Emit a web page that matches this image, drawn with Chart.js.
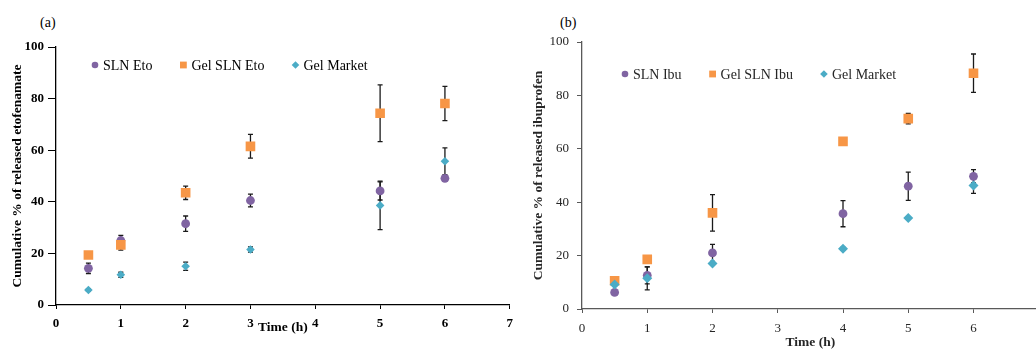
<!DOCTYPE html>
<html>
<head>
<meta charset="utf-8">
<script src="https://cdn.jsdelivr.net/npm/chart.js@4.4.1/dist/chart.umd.min.js"></script>
<style>
  html, body { margin: 0; padding: 0; background: #fff; overflow: hidden; }
  #chartA { position: absolute; left: 0; top: 0; }
  #chartB { position: absolute; left: 520px; top: 0; }
  .panel { position: absolute; top: 15px; font: 14px "Liberation Serif", serif; color: #000; }
</style>
</head>
<body>
<div class="panel" style="left:40px">(a)</div>
<div class="panel" style="left:560px">(b)</div>
<canvas id="chartA" width="520" height="349"></canvas>
<canvas id="chartB" width="530" height="352"></canvas>
<script>
// etofenamate release
const timesA = [0.5, 1, 2, 3, 5, 6];
const slnEto = [14.2, 25.0, 31.5, 40.5, 44.2, 49.1];
const slnEtoErr = [2.0, 2.0, 3.0, 2.5, 3.5, 1.0];
const gelSlnEto = [19.4, 23.3, 43.5, 61.5, 74.3, 78.1];
const gelSlnEtoErr = [0.5, 2.0, 2.6, 4.6, 11.0, 6.6];
const marketEto = [5.8, 11.7, 15.0, 21.5, 38.6, 55.7];
const marketEtoErr = [0.5, 1.0, 1.6, 1.0, 9.4, 5.2];

// ibuprofen release
const timesB = [0.5, 1, 2, 4, 5, 6];
const slnIbu = [6.2, 12.6, 21.0, 35.7, 46.0, 49.7];
const slnIbuErr = [1.0, 3.2, 3.2, 4.9, 5.3, 2.5];
const gelSlnIbu = [10.6, 18.6, 36.0, 62.8, 71.3, 88.3];
const gelSlnIbuErr = [0.5, 0.5, 6.8, 0.5, 2.0, 7.2];
const marketIbu = [9.2, 11.5, 17.0, 22.6, 34.1, 46.3];
const marketIbuErr = [0.5, 4.3, 0.5, 0.5, 0.5, 3.0];

const xTicks = [0, 1, 2, 3, 4, 5, 6, 7];
const yTicks = [0, 20, 40, 60, 80, 100];

const PURPLE = '#8064A2';
const ORANGE = '#F79646';
const CYAN = '#4BACC6';
const SERIF = '"Liberation Serif", "Times New Roman", serif';

function points(xs, ys) {
  return xs.map((x, i) => ({ x: x, y: ys[i] }));
}

// vertical error bars with caps, drawn under the markers
const errorBars = {
  id: 'errorBars',
  beforeDatasetsDraw(chart) {
    const ctx = chart.ctx;
    const xs = chart.scales.x, ys = chart.scales.y;
    ctx.save();
    ctx.strokeStyle = '#1a1a1a';
    ctx.lineWidth = 1.3;
    chart.data.datasets.forEach(ds => {
      if (!ds.err) return;
      ds.data.forEach((p, i) => {
        const e = ds.err[i];
        const px = xs.getPixelForValue(p.x);
        const top = ys.getPixelForValue(p.y + e);
        const bot = ys.getPixelForValue(p.y - e);
        ctx.beginPath();
        ctx.moveTo(px, top); ctx.lineTo(px, bot);
        ctx.moveTo(px - 2.5, top); ctx.lineTo(px + 2.5, top);
        ctx.moveTo(px - 2.5, bot); ctx.lineTo(px + 2.5, bot);
        ctx.stroke();
      });
    });
    ctx.restore();
  }
};

// single row legend placed inside the plot area
const inlineLegend = {
  id: 'inlineLegend',
  afterDraw(chart, args, opts) {
    const ctx = chart.ctx;
    const area = chart.chartArea;
    let x = area.left + opts.left;
    const y = area.top + opts.top;
    ctx.save();
    ctx.font = opts.font;
    ctx.textBaseline = 'middle';
    chart.data.datasets.forEach(ds => {
      ctx.fillStyle = ds.backgroundColor;
      ctx.beginPath();
      if (ds.pointStyle === 'circle') {
        ctx.arc(x, y, 3.3, 0, Math.PI * 2);
      } else if (ds.pointStyle === 'rect') {
        ctx.rect(x - 3.4, y - 3.4, 6.8, 6.8);
      } else {
        ctx.moveTo(x, y - 3.8); ctx.lineTo(x + 3.8, y);
        ctx.lineTo(x, y + 3.8); ctx.lineTo(x - 3.8, y);
        ctx.closePath();
      }
      ctx.fill();
      ctx.fillStyle = opts.color;
      ctx.fillText(ds.label, x + 8, y + 1);
      x += 8 + ctx.measureText(ds.label).width + opts.gap;
    });
    ctx.restore();
  }
};

function makeChart(id, cfg) {
  const tickFont = { family: SERIF, size: 13, weight: cfg.bold ? 'bold' : 'normal' };
  const titleFont = { family: SERIF, size: 13.5, weight: 'bold' };
  return new Chart(document.getElementById(id), {
    type: 'scatter',
    data: {
      datasets: [
        { label: cfg.names[0], data: points(cfg.times, cfg.s1), err: cfg.e1,
          pointStyle: 'circle', pointRadius: cfg.r[0], backgroundColor: PURPLE,
          borderWidth: 0, order: 2 },
        { label: cfg.names[1], data: points(cfg.times, cfg.s2), err: cfg.e2,
          pointStyle: 'rect', pointRadius: cfg.r[1], backgroundColor: ORANGE,
          borderWidth: 0, order: 1 },
        { label: cfg.names[2], data: points(cfg.times, cfg.s3), err: cfg.e3,
          pointStyle: 'rectRot', pointRadius: cfg.r[2], backgroundColor: CYAN,
          borderWidth: 0, order: 0 }
      ]
    },
    options: {
      responsive: false,
      animation: false,
      layout: { padding: cfg.pad },
      plugins: {
        legend: { display: false },
        tooltip: { enabled: false },
        inlineLegend: { left: cfg.legendLeft, top: cfg.legendTop, gap: 31,
          font: '14px ' + SERIF, color: cfg.textColor }
      },
      scales: {
        x: {
          type: 'linear', min: 0, max: 7,
          afterBuildTicks: s => { s.ticks = xTicks.map(v => ({ value: v })); },
          afterFit: s => { s.height = cfg.xHeight; },
          border: { display: true, color: cfg.axisColor, width: 1.3 },
          grid: { display: true, drawOnChartArea: false, drawTicks: true,
            tickLength: 4, color: cfg.axisColor },
          ticks: { color: cfg.textColor, font: tickFont, padding: cfg.xTickPad, maxRotation: 0 },
          title: { display: true, text: 'Time (h)', color: cfg.textColor, font: titleFont,
            padding: { top: 0, bottom: cfg.xTitlePad } }
        },
        y: {
          min: 0, max: 100,
          afterBuildTicks: s => { s.ticks = yTicks.map(v => ({ value: v })); },
          afterFit: s => { s.width = cfg.yWidth; },
          border: { display: true, color: cfg.axisColor, width: 1.3 },
          grid: { display: true, drawOnChartArea: false, drawTicks: true,
            tickLength: cfg.yTickLen, color: cfg.axisColor },
          ticks: { color: cfg.textColor, font: tickFont, padding: cfg.yTickPad },
          title: { display: true, text: cfg.yTitle, color: cfg.textColor, font: titleFont,
            padding: { top: cfg.yTitlePad, bottom: 0 } }
        }
      }
    },
    plugins: [errorBars, inlineLegend]
  });
}

makeChart('chartA', {
  names: ['SLN Eto', 'Gel SLN Eto', 'Gel Market'],
  times: timesA, s1: slnEto, e1: slnEtoErr, s2: gelSlnEto, e2: gelSlnEtoErr,
  s3: marketEto, e3: marketEtoErr,
  r: [4.4, 6.8, 4.3],
  bold: true, textColor: '#000', axisColor: '#000',
  pad: { left: 0, right: 8, top: 47, bottom: 0 },
  xHeight: 44, yWidth: 56, yTickLen: 8, yTickPad: 4, xTickPad: 7,
  xTitlePad: 13, yTitlePad: 9,
  yTitle: 'Cumulative % of released etofenamate',
  legendLeft: 39, legendTop: 18
});

makeChart('chartB', {
  names: ['SLN Ibu', 'Gel SLN Ibu', 'Gel Market'],
  times: timesB, s1: slnIbu, e1: slnIbuErr, s2: gelSlnIbu, e2: gelSlnIbuErr,
  s3: marketIbu, e3: marketIbuErr,
  r: [4.4, 6.8, 5],
  bold: false, textColor: '#262626', axisColor: '#595959',
  pad: { left: 0, right: 10, top: 42, bottom: 0 },
  xHeight: 43, yWidth: 62, yTickLen: 5, yTickPad: 8, xTickPad: 8,
  xTitlePad: 1, yTitlePad: 10,
  yTitle: 'Cumulative % of released ibuprofen',
  legendLeft: 43, legendTop: 32
});
</script>
</body>
</html>
